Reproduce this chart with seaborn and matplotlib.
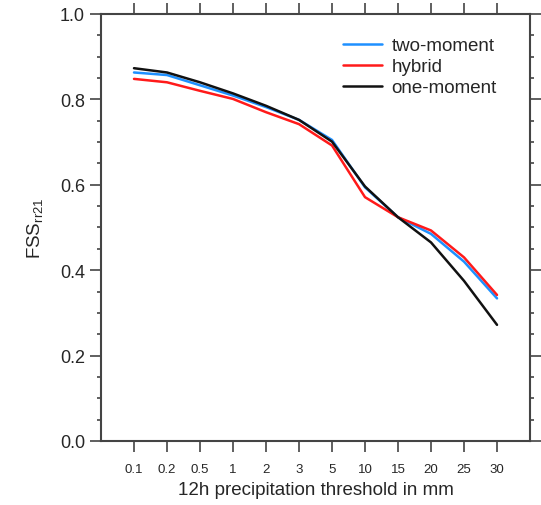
import pandas as pd
import numpy as np
import matplotlib
matplotlib.use("Agg")
import matplotlib.pyplot as plt
from matplotlib.ticker import MultipleLocator
import seaborn as sns

thresholds = ["0.1", "0.2", "0.5", "1", "2", "3", "5", "10", "15", "20", "25", "30"]
two_moment = [0.863, 0.857, 0.833, 0.809, 0.782, 0.752, 0.705, 0.594, 0.524, 0.485, 0.420, 0.334]
hybrid = [0.848, 0.840, 0.820, 0.801, 0.770, 0.742, 0.692, 0.571, 0.524, 0.493, 0.430, 0.342]
one_moment = [0.873, 0.863, 0.840, 0.814, 0.785, 0.752, 0.701, 0.596, 0.524, 0.465, 0.375, 0.272]

schemes = ["two-moment", "hybrid", "one-moment"]
colors = ["#1e90ff", "#ff1a1a", "#111111"]

df = pd.DataFrame({
    "threshold": thresholds * 3,
    "FSS": two_moment + hybrid + one_moment,
    "scheme": np.repeat(schemes, len(thresholds)),
})

sns.set_style("ticks")
plt.rcParams["font.family"] = ["Liberation Sans", "DejaVu Sans"]
plt.rcParams["mathtext.fontset"] = "custom"
plt.rcParams["mathtext.rm"] = "Liberation Sans"

fig = plt.figure(figsize=(5.41, 5.06), dpi=100)
ax = fig.add_axes([0.1867, 0.1265, 0.793, 0.8439])

sns.lineplot(data=df, x="threshold", y="FSS", hue="scheme", hue_order=schemes,
             palette=colors, linewidth=1.8, ax=ax, sort=False)

ax.set_xlim(-1, 12)
ax.set_ylim(0, 1)
ax.yaxis.set_major_locator(MultipleLocator(0.2))
ax.yaxis.set_minor_locator(MultipleLocator(0.05))
ax.set_xticks(range(len(thresholds)))
ax.set_xticklabels(thresholds)

for side in ["top", "right", "left", "bottom"]:
    ax.spines[side].set_visible(True)
    ax.spines[side].set_linewidth(1.5)
    ax.spines[side].set_color("#444444")

ax.tick_params(axis="both", which="both", direction="out", top=True, right=True,
               color="#444444", width=1.2)
ax.tick_params(axis="x", which="major", length=8, labelsize=9.5, pad=8)
ax.tick_params(axis="y", which="major", length=8, labelsize=13)
ax.tick_params(axis="y", which="minor", length=3)

ax.set_xlabel("12h precipitation threshold in mm", fontsize=13.5, labelpad=4)
ax.set_ylabel("FSS$_\\mathregular{rr21}$", fontsize=13.5, labelpad=10)

leg = ax.legend(loc="upper right", frameon=False, fontsize=13.5, handlelength=2.1,
                handletextpad=0.5, labelspacing=0.2, borderaxespad=0.5,
                bbox_to_anchor=(0.962, 0.985))
for line in leg.get_lines():
    line.set_linewidth(1.8)

fig.savefig("out.png", dpi=100)
